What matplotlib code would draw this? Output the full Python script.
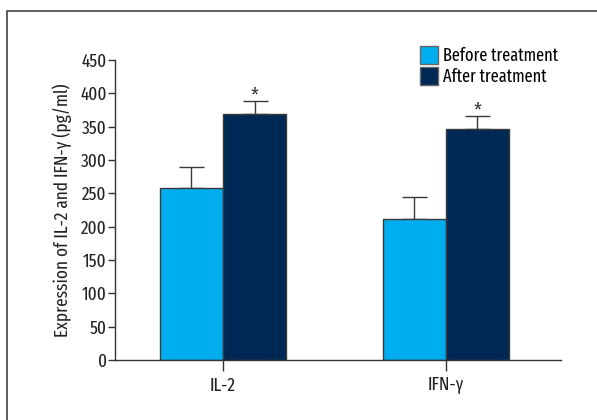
import matplotlib
matplotlib.use("Agg")
import matplotlib.pyplot as plt
from matplotlib.patches import Rectangle
import numpy as np

categories = ["IL-2", "IFN-γ"]
before = [258, 212]
before_err = [32, 32]
after = [369, 346]
after_err = [20, 20]
series_labels = ["Before treatment", "After treatment"]
yticks = [0, 50, 100, 150, 200, 250, 300, 350, 400, 450]

plt.rcParams["font.family"] = ["Fira Sans Extra Condensed", "DejaVu Sans"]

W, H = 597, 420
fig = plt.figure(figsize=(W / 100, H / 100), dpi=100)

# outer frame
fig.add_artist(Rectangle((7 / W, -0.05), 1.2, (H - 11) / H + 0.05,
                         transform=fig.transFigure, fill=False,
                         edgecolor="#333333", linewidth=1.1))

ax = fig.add_axes([115 / W, (H - 360) / H, (561 - 115) / W, 300 / H])

x = np.arange(len(categories))
bw = 0.283
light = "#00AEEF"
dark = "#002855"
edge = "#3a3a3a"

ax.bar(x - bw / 2, before, bw, color=light, edgecolor=edge, linewidth=1.0,
       label=series_labels[0], zorder=2)
ax.bar(x + bw / 2, after, bw, color=dark, edgecolor=edge, linewidth=1.0,
       label=series_labels[1], zorder=2)
ax.errorbar(x - bw / 2, before, yerr=[np.zeros(2), before_err], fmt="none",
            ecolor=edge, elinewidth=1.0, capsize=9, capthick=1.0, zorder=1)
ax.errorbar(x + bw / 2, after, yerr=[np.zeros(2), after_err], fmt="none",
            ecolor=edge, elinewidth=1.0, capsize=9, capthick=1.0, zorder=1)

for xi, v, e in zip(x, after, after_err):
    ax.text(xi + bw / 2, v + e - 7, "*", ha="center", va="bottom",
            fontsize=15, color="#333333")

ax.set_xlim(-0.485, 1.518)
ax.set_ylim(0, 450)
ax.set_yticks(yticks)
ax.set_xticks(x)
ax.set_xticklabels(categories)
ax.tick_params(axis="y", direction="out", length=5, width=1.0, color="#333333",
               labelsize=13.5, labelcolor="#222222", pad=1)
ax.tick_params(axis="x", direction="out", length=8, width=1.0, color="#333333",
               labelsize=13.5, labelcolor="#222222", pad=4)
for s in ["top", "right"]:
    ax.spines[s].set_visible(False)
for s in ["left", "bottom"]:
    ax.spines[s].set_color("#333333")
    ax.spines[s].set_linewidth(1.0)

ax.set_ylabel("Expression of IL-2 and IFN-γ (pg/ml)", fontsize=13.5,
              color="#222222", labelpad=6)

leg = ax.legend(loc="upper left", bbox_to_anchor=((420 - 115) / (561 - 115), 1.045),
                frameon=False, fontsize=12.8, handlelength=1.0, handleheight=1.1,
                handletextpad=0.3, labelspacing=0.15, borderaxespad=0, borderpad=0)
for h in leg.legend_handles:
    h.set_edgecolor("#666666")

fig.savefig("out.png", dpi=100)
